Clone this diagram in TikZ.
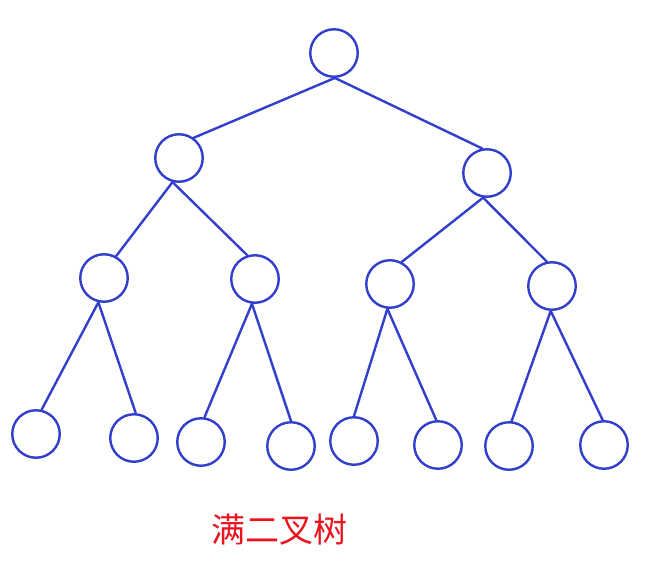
\documentclass[tikz,border=0pt]{standalone}
\usepackage{fontspec}
\newfontfamily\cjk{Noto Sans CJK SC}
\definecolor{treeblue}{RGB}{50,62,204}
\definecolor{labelred}{RGB}{235,20,30}
\begin{document}
\begin{tikzpicture}[x=1pt,y=-1pt,
  treenode/.style={circle,draw=treeblue,line width=2.4pt,minimum size=47.5pt,inner sep=0pt},
  edge/.style={draw=treeblue,line width=2.4pt,line cap=round}]
\useasboundingbox (0,0) rectangle (655,567);
\node[treenode] (r) at (334,53) {};
\node[treenode] (a) at (179,158) {};
\node[treenode] (b) at (487,173) {};
\node[treenode] (c) at (104,278) {};
\node[treenode] (d) at (255,279) {};
\node[treenode] (e) at (390,284) {};
\node[treenode] (f) at (552,286) {};
\node[treenode] (l1) at (36,434) {};
\node[treenode] (l2) at (134,438) {};
\node[treenode] (l3) at (201,442) {};
\node[treenode] (l4) at (291,446) {};
\node[treenode] (l5) at (354,441) {};
\node[treenode] (l6) at (438,445) {};
\node[treenode] (l7) at (509,446) {};
\node[treenode] (l8) at (604,445) {};
\path[edge] (r.-88) -- (a.54);
\path[edge] (r.-88) -- (b.101);
\path[edge] (a.-105) -- (c.61);
\path[edge] (a.-105) -- (d.108);
\path[edge] (b.-99) -- (e.62);
\path[edge] (b.-99) -- (f.102);
\path[edge] (c.-103) -- (l1.77);
\path[edge] (c.-103) -- (l2.86);
\path[edge] (d.-97) -- (l3.82);
\path[edge] (d.-97) -- (l4.90);
\path[edge] (e.-96) -- (l5.90);
\path[edge] (e.-96) -- (l6.94);
\path[edge] (f.-93) -- (l7.84);
\path[edge] (f.-93) -- (l8.93);
\node[text=labelred,font=\cjk\fontsize{34pt}{38pt}\selectfont,inner sep=0pt] (t) at (279,530) {满二叉树};
\end{tikzpicture}
\end{document}
